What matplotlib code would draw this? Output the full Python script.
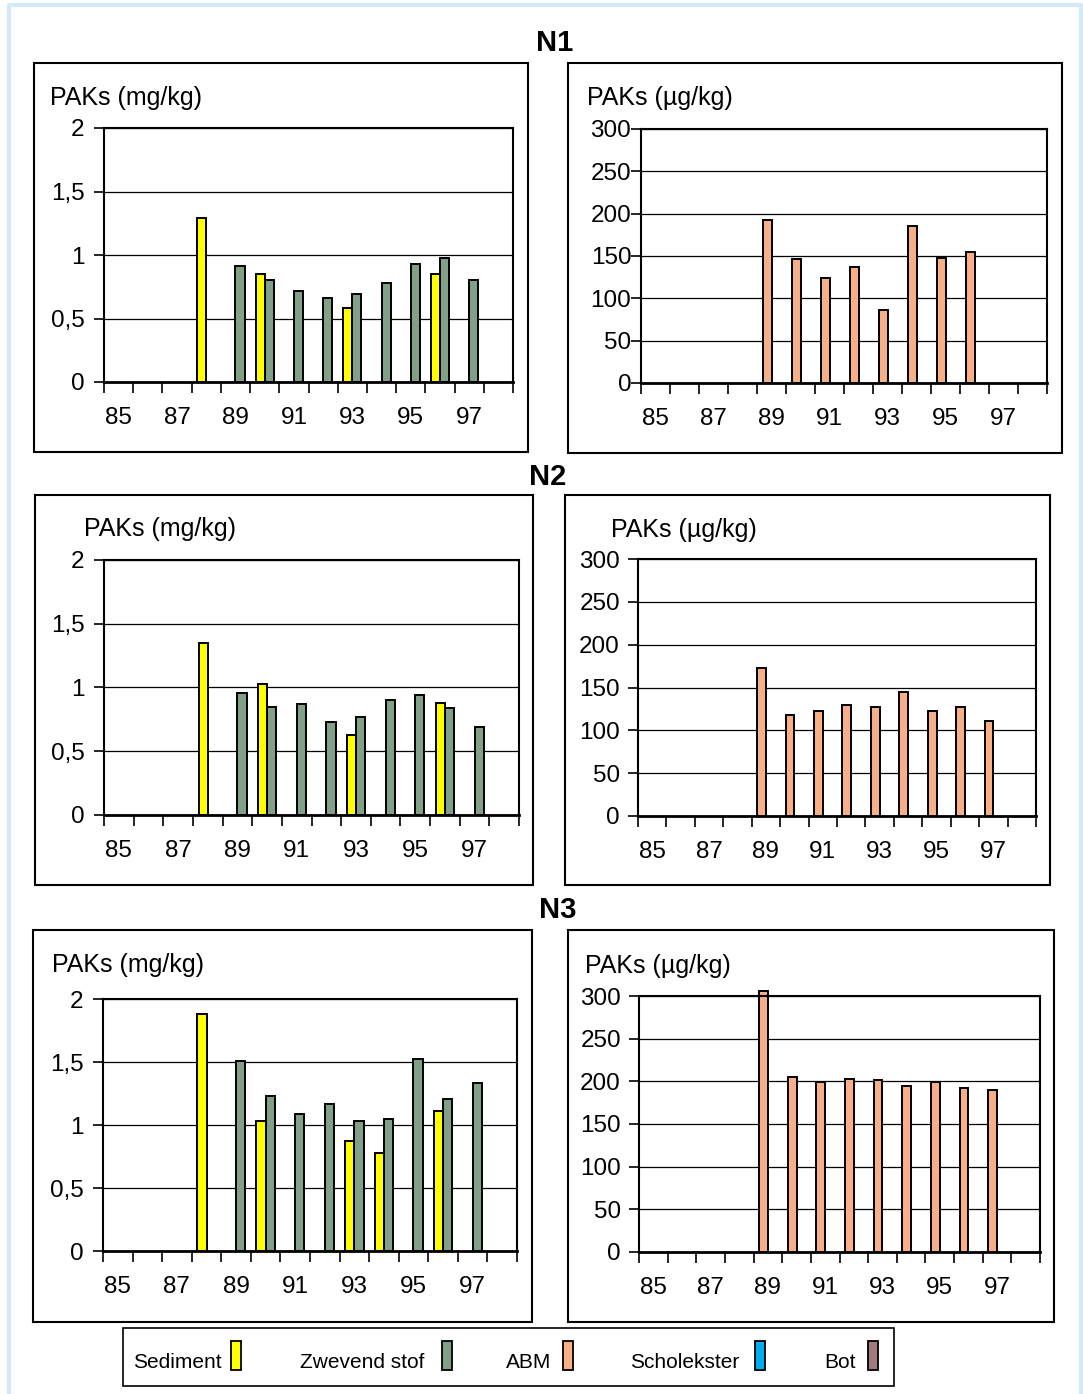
import numpy as np
import matplotlib
matplotlib.use('Agg')
import matplotlib.pyplot as plt
from matplotlib.patches import Rectangle

plt.rcParams['font.family'] = ['Liberation Sans', 'DejaVu Sans']

nan = np.nan
years = ['85', '86', '87', '88', '89', '90', '91', '92', '93', '94', '95', '96', '97', '98']

# PAKs in sediment / zwevend stof (mg/kg), ABM (ug/kg)
sed_n1 = [nan, nan, nan, 1.29, nan, 0.85, nan, nan, 0.58, nan, nan, 0.85, nan, nan]
zws_n1 = [nan, nan, nan, nan, 0.91, 0.80, 0.72, 0.66, 0.69, 0.78, 0.93, 0.98, 0.80, nan]
abm_n1 = [nan, nan, nan, nan, 192, 146, 124, 137, 86, 186, 148, 155, nan, nan]

sed_n2 = [nan, nan, nan, 1.35, nan, 1.03, nan, nan, 0.63, nan, nan, 0.88, nan, nan]
zws_n2 = [nan, nan, nan, nan, 0.96, 0.85, 0.87, 0.73, 0.77, 0.90, 0.94, 0.84, 0.69, nan]
abm_n2 = [nan, nan, nan, nan, 173, 118, 122, 129, 127, 145, 122, 127, 111, nan]

sed_n3 = [nan, nan, nan, 1.88, nan, 1.03, nan, nan, 0.87, 0.78, nan, 1.11, nan, nan]
zws_n3 = [nan, nan, nan, nan, 1.51, 1.23, 1.09, 1.17, 1.03, 1.05, 1.52, 1.21, 1.33, nan]
abm_n3 = [nan, nan, nan, nan, 306, 205, 199, 203, 201, 194, 199, 192, 190, nan]

legend_names = ['Sediment', 'Zwevend stof', 'ABM', 'Scholekster', 'Bot']
colors = {'Sediment': '#FFFF00', 'Zwevend stof': '#82A087', 'ABM': '#F7AF87',
          'Scholekster': '#00AEEF', 'Bot': '#A07C7C'}

W, H = 1083, 1394
BW = 0.31  # bar width as fraction of a category


def fig_rect(x0, y0, x1, y1):
    # pixel box -> figure fraction [left, bottom, width, height]
    return [x0 / W, 1 - y1 / H, (x1 - x0) / W, (y1 - y0) / H]


def style_axis(ax, ymax, step, labels, ypad):
    n = len(years)
    ax.set_xlim(-0.5, n - 0.5)
    ax.set_ylim(0, ymax)
    ax.set_xticks(np.arange(-0.5, n, 1.0))
    ax.set_xticklabels([])
    ax.set_xticks(np.arange(0, n, 2), minor=True)
    ax.set_xticklabels(years[::2], minor=True, fontsize=17.5)
    ax.tick_params(axis='x', which='major', direction='out', length=8, width=1.2)
    ax.tick_params(axis='x', which='minor', length=0, pad=18)
    yt = np.arange(0, ymax + step / 2, step)
    ax.set_yticks(yt)
    ax.set_yticklabels(labels, fontsize=17.5)
    ax.tick_params(axis='y', direction='out', length=7, width=1.2, pad=ypad)
    ax.yaxis.grid(True, color='black', linewidth=0.9)
    ax.set_axisbelow(True)
    for s in ax.spines.values():
        s.set_linewidth(1.5)
        s.set_color('black')
    ax.spines['bottom'].set_linewidth(2)


def draw_left(ax, sed, zws):
    x = np.arange(len(years))
    ax.bar(x - BW / 2, sed, BW, color=colors['Sediment'], edgecolor='black', linewidth=1.4)
    ax.bar(x + BW / 2, zws, BW, color=colors['Zwevend stof'], edgecolor='black', linewidth=1.4)
    style_axis(ax, 2, 0.5, ['0', '0,5', '1', '1,5', '2'], 7)


def draw_right(ax, abm, ypad):
    x = np.arange(len(years))
    bars = ax.bar(x - BW / 2, abm, BW, color=colors['ABM'], edgecolor='black', linewidth=1.4)
    for b in bars:
        b.set_clip_on(False)
    style_axis(ax, 300, 50, ['0', '50', '100', '150', '200', '250', '300'], ypad)


fig = plt.figure(figsize=(W / 100, H / 100), dpi=100)

bg = fig.add_axes([0, 0, 1, 1])
bg.set_xlim(0, W)
bg.set_ylim(H, 0)
bg.axis('off')

# light blue outer frame (no bottom edge visible)
bg.plot([9, 9, 1081, 1081], [H + 5, 5, 5, H + 5], color='#D4E9F8', linewidth=3, clip_on=False)

# panel boxes
boxes = [(34, 63, 528, 452), (568, 63, 1062, 453),
         (35, 495, 533, 885), (565, 495, 1050, 885),
         (33, 930, 532, 1322), (568, 930, 1054, 1322)]
for x0, y0, x1, y1 in boxes:
    bg.add_patch(Rectangle((x0, y0), x1 - x0, y1 - y0, fill=False,
                           edgecolor='black', linewidth=1.5))

# station titles
for txt, (tx, ty) in zip(['N1', 'N2', 'N3'], [(555, 43), (548, 477), (558, 910)]):
    bg.text(tx, ty, txt, fontsize=21, fontweight='bold', ha='center', va='center')

# unit labels
units = [('PAKs (mg/kg)', 50, 98), ('PAKs (\u00b5g/kg)', 587, 98),
         ('PAKs (mg/kg)', 84, 529), ('PAKs (\u00b5g/kg)', 611, 530),
         ('PAKs (mg/kg)', 52, 965), ('PAKs (\u00b5g/kg)', 585, 966)]
for txt, tx, ty in units:
    bg.text(tx, ty, txt, fontsize=18, ha='left', va='center')

# legend
bg.add_patch(Rectangle((123, 1328), 894 - 123, 1386 - 1328, fill=False,
                       edgecolor='black', linewidth=1.2))
leg_pos = [(133, 231), (300, 442), (506, 563), (630, 755), (824, 868)]
for name, (tx, px) in zip(legend_names, leg_pos):
    bg.text(tx, 1363, name, fontsize=15, ha='left', va='center')
    bg.add_patch(Rectangle((px, 1341), 10, 29, facecolor=colors[name],
                           edgecolor='black', linewidth=1.3))

ax1 = fig.add_axes(fig_rect(104, 128, 513, 382))
draw_left(ax1, sed_n1, zws_n1)
ax2 = fig.add_axes(fig_rect(641, 129, 1047, 383))
draw_right(ax2, abm_n1, 0)

ax3 = fig.add_axes(fig_rect(104, 560, 519, 815))
draw_left(ax3, sed_n2, zws_n2)
ax4 = fig.add_axes(fig_rect(638, 559, 1036, 816))
draw_right(ax4, abm_n2, 6)

ax5 = fig.add_axes(fig_rect(103, 999, 517, 1251))
draw_left(ax5, sed_n3, zws_n3)
ax6 = fig.add_axes(fig_rect(639, 996, 1040, 1252))
draw_right(ax6, abm_n3, 6)

fig.savefig('out.png', dpi=100)
plt.close()
